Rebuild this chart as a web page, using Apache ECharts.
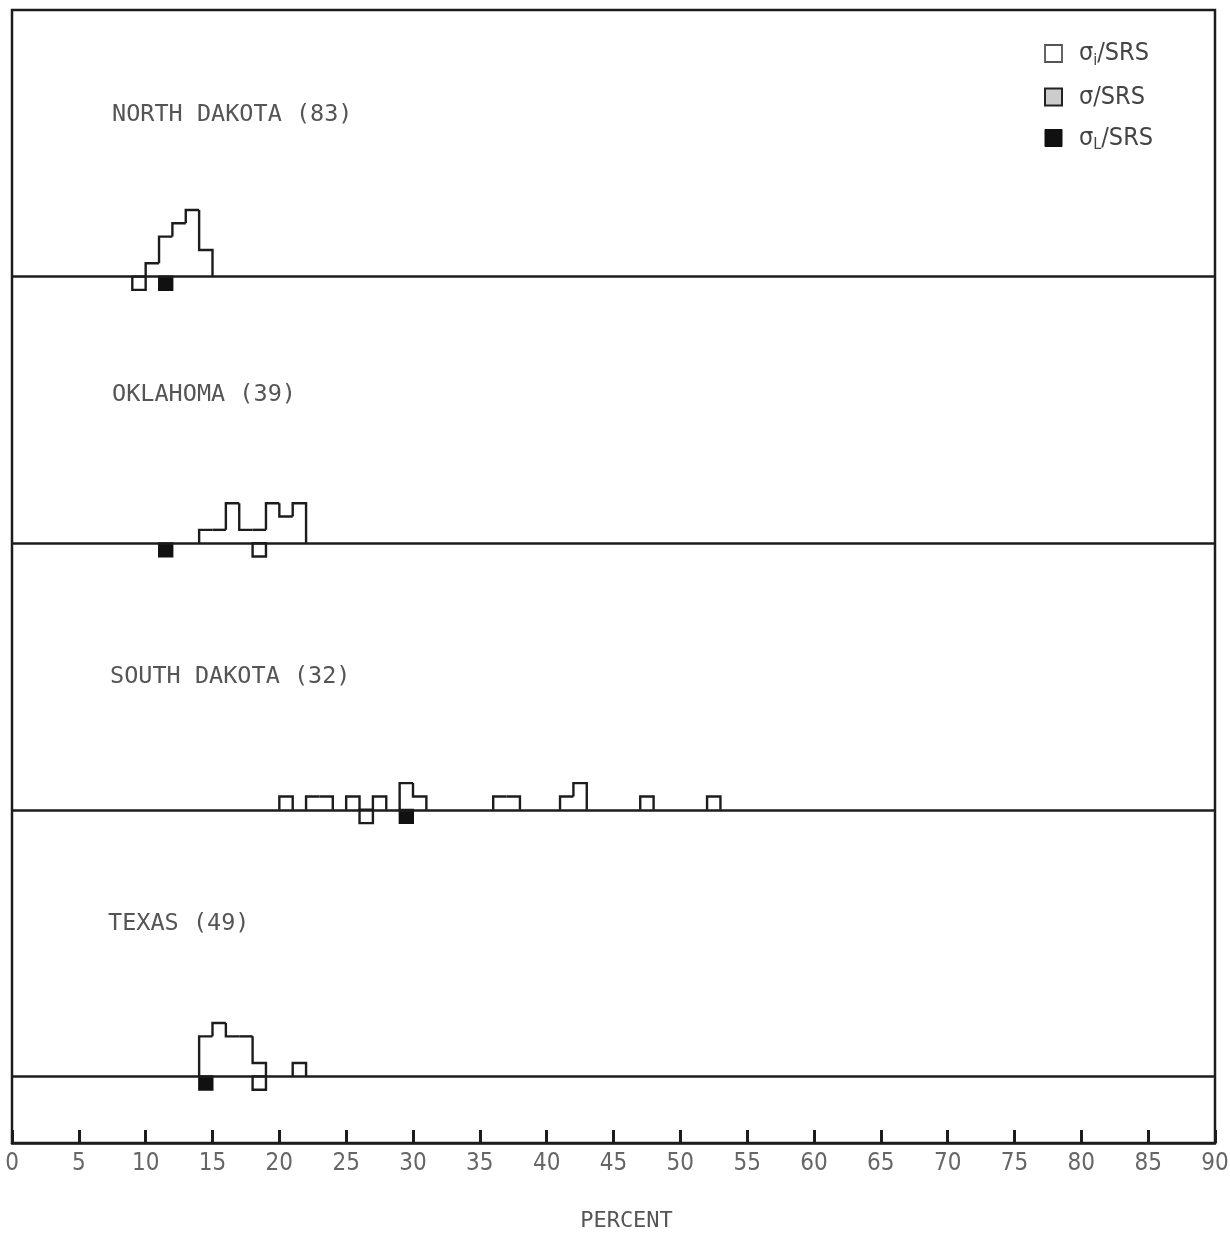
<!DOCTYPE html>
<html><head><meta charset="utf-8">
<script src="https://cdn.jsdelivr.net/npm/echarts@6/dist/echarts.min.js"></script>
<style>html,body{margin:0;padding:0;background:#fff}#c{width:1230px;height:1233px}</style>
</head><body><div id="c"></div>
<script>
// ---- data ----
const stateLabels = ['NORTH DAKOTA (83)', 'OKLAHOMA (39)', 'SOUTH DAKOTA (32)', 'TEXAS (49)'];
// sigma_i / SRS histogram: [bin start (percent), count]
const ndSigmaI = [[10,1],[11,3],[12,4],[13,5],[14,2]];
const okSigmaI = [[14,1],[15,1],[16,3],[17,1],[18,1],[19,3],[20,2],[21,3]];
const sdSigmaI = [[20,1],[22,1],[23,1],[25,1],[27,1],[29,2],[30,1],[36,1],[37,1],[41,1],[42,2],[47,1],[52,1]];
const txSigmaI = [[14,3],[15,4],[16,3],[17,3],[18,1],[21,1]];
// sigma / SRS (open square) bin start per state
const sigmaBins = [9, 18, 26, 18];
// sigma_L / SRS (filled square) bin start per state
const sigmaLBins = [11, 11, 29, 14];
const xTicks = [0,5,10,15,20,25,30,35,40,45,50,55,60,65,70,75,80,85,90];

// ---- layout ----
const BIN = 1;
const panelBase = [65, 45, 25, 5];
const labelPos = [[112,117],[112,397],[110,679],[108,926]];

const sigmaI = [ndSigmaI, okSigmaI, sdSigmaI, txSigmaI];
const histItems = [];
sigmaI.forEach((bins, s) => {
  const base = panelBase[s];
  const m = new Map(bins.map(b => [b[0], b[1]]));
  bins.forEach(([x, h]) => {
    const prev = m.has(x - BIN) ? m.get(x - BIN) : 0;
    const next = m.has(x + BIN) ? 1 : 0;
    histItems.push([x, x + BIN, base, h, prev, next]);
  });
});
const openItems = sigmaBins.map((x, s) => [x, x + BIN, panelBase[s], 1]);
const filledItems = sigmaLBins.map((x, s) => [x, x + BIN, panelBase[s], 1]);

const INK = '#1c1c1c';

function renderHist(params, api) {
  const x0 = api.value(0), x1 = api.value(1), base = api.value(2), h = api.value(3), prev = api.value(4), next = api.value(5);
  const pts = [api.coord([x0, base + prev]), api.coord([x0, base + h]), api.coord([x1, base + h])];
  if (!next) pts.push(api.coord([x1, base]));
  return { type: 'polyline', shape: { points: pts }, style: { stroke: INK, lineWidth: 2.4, fill: null } };
}
function makeSquare(filled) {
  return function (params, api) {
    const x0 = api.value(0), x1 = api.value(1), base = api.value(2), d = api.value(3);
    const a = api.coord([x0, base]);
    const b = api.coord([x1, base - d]);
    return {
      type: 'rect',
      shape: { x: a[0], y: a[1], width: b[0] - a[0], height: b[1] - a[1] },
      style: filled ? { fill: '#111', stroke: '#111', lineWidth: 2 } : { fill: null, stroke: INK, lineWidth: 2.4 }
    };
  };
}

const chart = echarts.init(document.getElementById('c'), null, { renderer: 'canvas' });
const sub = { fontFamily: 'DejaVu Sans Condensed', color: '#444' };
chart.setOption({
  animation: false,
  backgroundColor: '#fff',
  grid: { left: 12, right: 15, top: 10, bottom: 90, outerBoundsMode: 'none', containLabel: false,
    show: true, borderColor: INK, borderWidth: 2.5, backgroundColor: 'transparent' },
  xAxis: {
    type: 'value', min: 0, max: 90, interval: 5,
    name: 'PERCENT', nameLocation: 'middle', nameGap: 67,
    nameTextStyle: { fontFamily: 'DejaVu Sans Mono', fontSize: 22, color: '#555', padding: [0, 0, 0, 26] },
    axisLine: { lineStyle: { color: INK, width: 2.5 } },
    axisTick: { inside: true, length: 13, lineStyle: { color: INK, width: 3 } },
    axisLabel: { margin: 9, fontFamily: 'DejaVu Sans Condensed', fontSize: 24, color: '#666',
      formatter: v => xTicks.includes(v) ? String(v) : '' },
    splitLine: { show: false }
  },
  yAxis: { type: 'value', min: 0, max: 85, show: false, splitLine: { show: false } },
  legend: {
    orient: 'vertical', left: 1039, top: 36, itemWidth: 17, itemHeight: 17, itemGap: 16,
    textStyle: {
      padding: [0, 0, 0, 12],
      rich: {
        t: Object.assign({ fontSize: 25, lineHeight: 30, verticalAlign: 'middle' }, sub),
        s: Object.assign({ fontSize: 16, lineHeight: 4, verticalAlign: 'bottom' }, sub)
      }
    },
    formatter: name => name === 'sI' ? '{t|σ}{s|i}{t|/SRS}' : name === 's' ? '{t|σ/SRS}' : '{t|σ}{s|L}{t|/SRS}',
    data: [
      { name: 'sI', icon: 'rect', itemStyle: { color: '#fff', borderColor: '#555', borderWidth: 1.8 } },
      { name: 's', icon: 'rect', itemStyle: { color: '#ccc', borderColor: '#222', borderWidth: 2 } },
      { name: 'sL', icon: 'rect', itemStyle: { color: '#111', borderColor: '#111', borderWidth: 1 } }
    ]
  },
  graphic: stateLabels.map((t, i) => ({
    type: 'text', left: labelPos[i][0], top: labelPos[i][1] - 14,
    style: { text: t, fontFamily: 'DejaVu Sans Mono', fontSize: 23.5, fill: '#555' }
  })),
  series: [
    {
      name: 'sI', type: 'custom', renderItem: renderHist, data: histItems,
      encode: { x: [0, 1], y: [2] }, silent: true,
      markLine: {
        silent: true, symbol: 'none', label: { show: false },
        lineStyle: { color: INK, width: 2.5, type: 'solid' },
        data: panelBase.map(b => ({ yAxis: b }))
      }
    },
    { name: 's', type: 'custom', renderItem: makeSquare(false), data: openItems, encode: { x: [0, 1], y: [2] }, silent: true },
    { name: 'sL', type: 'custom', renderItem: makeSquare(true), data: filledItems, encode: { x: [0, 1], y: [2] }, silent: true }
  ]
});
</script>
</body></html>
